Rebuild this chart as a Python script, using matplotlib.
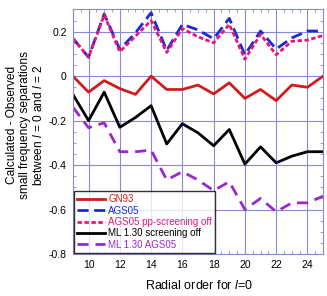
import numpy as np
import matplotlib
matplotlib.use("Agg")
import matplotlib.pyplot as plt
from matplotlib.ticker import MultipleLocator

plt.rcParams["font.family"] = ["Liberation Sans", "DejaVu Sans"]
plt.rcParams["mathtext.fontset"] = "custom"
plt.rcParams["mathtext.it"] = "Liberation Sans:italic"
plt.rcParams["mathtext.rm"] = "Liberation Sans"

# radial order
n = list(range(9, 26))

gn93 = [0, -0.072, -0.02, -0.056, -0.082, 0, -0.06, -0.06, -0.04, -0.08,
        -0.03, -0.10, -0.06, -0.11, -0.04, -0.05, 0]
ags05 = [0.17, 0.085, 0.28, 0.12, 0.195, 0.285, 0.116, 0.233, 0.208, 0.168,
         0.26, 0.096, 0.203, 0.122, 0.172, 0.203, 0.203]
ags05_pp = [0.17, 0.085, 0.275, 0.11, 0.18, 0.25, 0.107, 0.214, 0.177, 0.15,
            0.233, 0.076, 0.188, 0.096, 0.157, 0.162, 0.183]
ml130_scr = [-0.082, -0.2, -0.072, -0.23, -0.186, -0.133, -0.305, -0.214, -0.255,
             -0.313, -0.24, -0.396, -0.318, -0.39, -0.36, -0.34, -0.34]
ml130_ags = [-0.14, -0.232, -0.21, -0.34, -0.34, -0.333, -0.467, -0.43, -0.467,
             -0.515, -0.475, -0.60, -0.55, -0.61, -0.57, -0.57, -0.54]

labels = ["GN93", "AGS05", "AGS05 pp-screening off",
          "ML 1.30 screening off", "ML 1.30 AGS05"]
colors = ["#d01c1c", "#1c2ad0", "#e8167a", "#000000", "#9a28d0"]

fig = plt.figure(figsize=(3.27, 2.96), dpi=100)
ax = fig.add_axes([0.223, 0.142, 0.765, 0.826])

grid_c = "#8888dd"
ax.plot(n, gn93, color=colors[0], lw=2, label=labels[0])
ax.plot(n, ags05, color=colors[1], lw=2, ls=(0, (4, 2)), label=labels[1])
ax.plot(n, ags05_pp, color=colors[2], lw=2, ls=(0, (1.6, 0.9)), label=labels[2])
ax.plot(n, ml130_scr, color=colors[3], lw=2, label=labels[3])
ax.plot(n, ml130_ags, color=colors[4], lw=2, ls=(0, (4, 2.5)), label=labels[4])

ax.set_xlim(9, 25)
ax.set_ylim(-0.8, 0.3)
ax.xaxis.set_major_locator(MultipleLocator(2))
ax.xaxis.set_minor_locator(MultipleLocator(0.5))
ax.yaxis.set_major_locator(MultipleLocator(0.2))
ax.yaxis.set_minor_locator(MultipleLocator(0.05))
ax.yaxis.set_major_formatter(plt.FuncFormatter(lambda v, p: "0" if abs(v) < 1e-9 else f"{v:.1f}"))
ax.grid(True, which="major", color=grid_c, lw=0.8)
ax.set_axisbelow(True)
for s in ax.spines.values():
    s.set_color(grid_c)
ax.tick_params(which="both", direction="in", top=True, right=True, color=grid_c,
               labelsize=7.5)
ax.tick_params(which="major", length=0, pad=4.5)
ax.tick_params(which="minor", length=2.5)

# axis titles placed in figure coordinates
fig.text(0.61, 0.037, "Radial order for $l$=0", fontsize=9, ha="center", va="center")
fig.text(0.077, 0.578,
         "Calculated - Observed\nsmall frequency separations\nbetween $l$ = 0 and $l$ = 2",
         fontsize=8.6, rotation=90, ha="center", va="center", multialignment="center",
         linespacing=1.12)

leg = ax.legend(loc="lower left", fontsize=7, frameon=True, fancybox=False,
                borderaxespad=0.12, handlelength=2.9, handletextpad=0.3,
                labelspacing=0.15, borderpad=0.3)
leg.get_frame().set_edgecolor("black")
leg.get_frame().set_linewidth(1)
for t, c in zip(leg.get_texts(), colors):
    t.set_color(c)

fig.savefig("out.png", dpi=100)
